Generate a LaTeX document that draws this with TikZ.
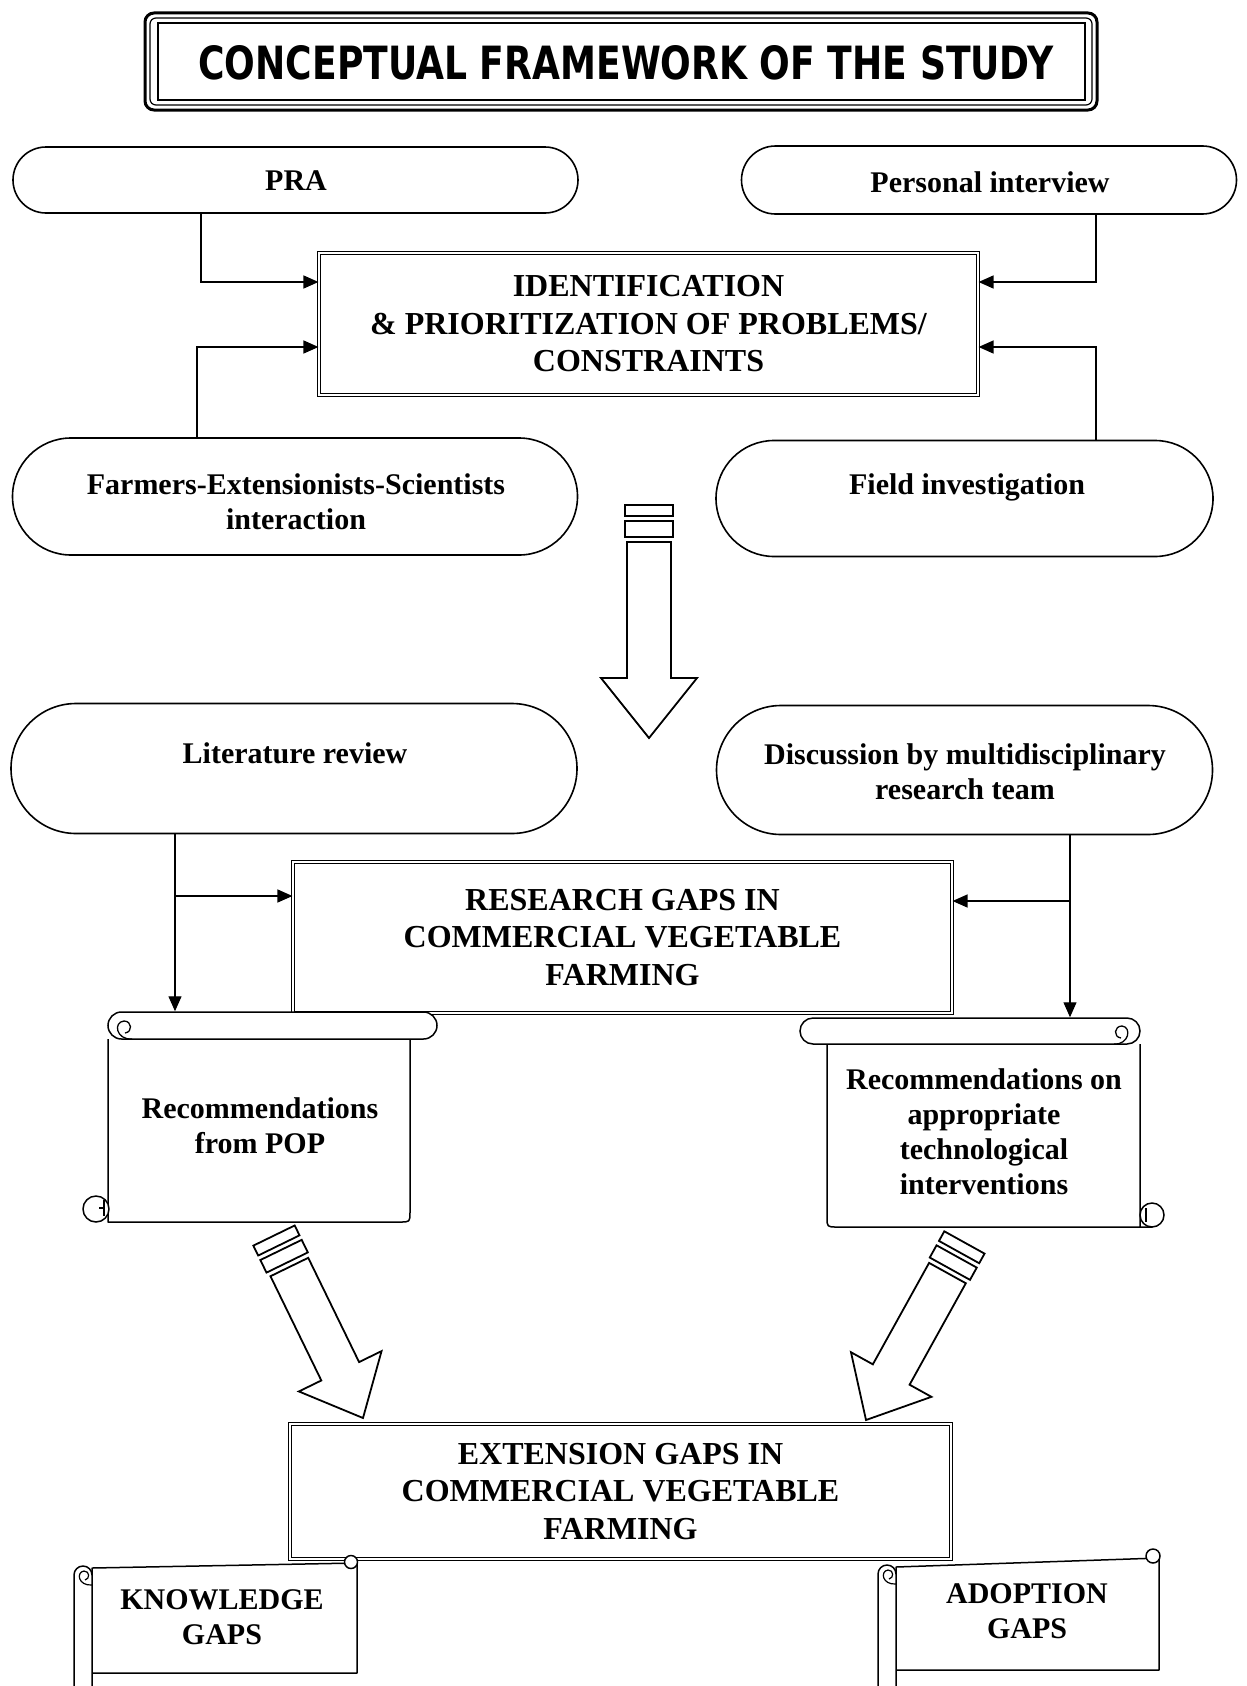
\documentclass[tikz,border=0pt]{standalone}
\usepackage{graphicx}
\usepackage{fontspec}
\setmainfont{Liberation Serif}
\newfontfamily\titlefont{DejaVu Sans}
\usetikzlibrary{arrows.meta,shapes.misc}
\tikzset{
  bolt/.style={line width=1.8pt, line join=miter, fill=white},
  bigarrow/.pic={
    \draw[bolt] (0,0) -- (-48,-60) -- (-22,-60) -- (-22,-196) -- (22,-196) -- (22,-60) -- (48,-60) -- cycle;
    \draw[bolt] (-24,-201) rectangle (24,-217);
    \draw[bolt] (-24,-222) rectangle (24,-233);
  },
  diagarrow/.pic={
    \draw[bolt] (0,0) -- (-46,-52) -- (-21,-52) -- (-21,-168) -- (21,-168) -- (21,-52) -- (46,-52) -- cycle;
    \draw[bolt] (-23,-173) rectangle (23,-187);
    \draw[bolt] (-23,-192) rectangle (23,-203);
  },
}
\begin{document}
\begin{tikzpicture}[x=1pt,y=-1pt,
  stad/.style={draw, line width=1.6pt, rounded rectangle, inner sep=0pt},
  dbox/.style={draw, line width=1.1pt, double, double distance=2.6pt, inner sep=0pt,
               font=\fontsize{32}{37.5}\selectfont\bfseries, align=center},
  conn/.style={line width=1.3pt, -{Triangle[length=15pt,width=13pt]}},
  txtA/.style={font=\fontsize{30}{35}\selectfont\bfseries, align=center, inner sep=0pt},
  scrl/.style={line width=1.5pt, fill=white, line join=round},
  roll/.style={draw, line width=1.5pt, fill=white, rounded rectangle, inner sep=0pt},
]
\clip (0,0) rectangle (1247,1686);
\fill[white] (0,0) rectangle (1247,1686);

% ---------- title ----------
\draw[line width=3pt, rounded corners=9pt] (145,13) rectangle (1097,110);
\draw[line width=1.2pt, rounded corners=6pt] (150,18) rectangle (1092,105);
\draw[line width=2.4pt] (158,23) rectangle (1085,100);
\node[inner sep=0pt] (title) at (626,63)
  {\resizebox{855pt}{34pt}{\titlefont\bfseries CONCEPTUAL FRAMEWORK OF THE STUDY}};

% ---------- stadiums ----------
\node[stad, minimum width=565pt, minimum height=66pt] (pra) at (295.5,180) {};
\node[stad, minimum width=495pt, minimum height=68pt] (pi) at (989,180) {};
\node[stad, minimum width=565pt, minimum height=117pt] (fes) at (295,496.5) {};
\node[stad, minimum width=497pt, minimum height=116pt] (fi) at (964.5,498.5) {};
\node[stad, minimum width=566pt, minimum height=130pt] (lit) at (294,768.5) {};
\node[stad, minimum width=496pt, minimum height=129pt] (disc) at (964.5,770) {};

\node[txtA] (praT) at (296,181) {PRA};
\node[txtA] (piT) at (990,182) {Personal interview};
\node[txtA] (fesT) at (296,502) {Farmers-Extensionists-Scientists\\interaction};
\node[txtA] (fiT) at (967,487) {Field investigation};
\node[txtA] (litT) at (295,753) {Literature review};
\node[txtA] (discT) at (965,772) {Discussion by multidisciplinary\\research team};

% ---------- boxes ----------
\node[dbox, minimum width=659pt, minimum height=142pt] (ident) at (648.5,324)
  {IDENTIFICATION\\\& PRIORITIZATION OF PROBLEMS/\\CONSTRAINTS};
\node[dbox, minimum width=659pt, minimum height=151pt] (res) at (622.5,937.5)
  {RESEARCH GAPS IN\\COMMERCIAL VEGETABLE\\FARMING};
\node[dbox, minimum width=661pt, minimum height=135pt] (ext) at (620.5,1491.5)
  {EXTENSION GAPS IN\\COMMERCIAL VEGETABLE\\FARMING};

% ---------- connectors to identification ----------
\coordinate (p1) at (201,282);
\coordinate (p2) at (1096,282);
\coordinate (p3) at (197,347);
\coordinate (p4) at (1096,347);
\draw[conn] (p1 |- pra.south) |- (ident.west |- p1);
\draw[conn] (p2 |- pi.south) |- (ident.east |- p2);
\draw[conn] (p3 |- fes.north) |- (ident.west |- p3);
\draw[conn] (p4 |- fi.north) |- (ident.east |- p4);

% ---------- big down arrow ----------
\pic at (649,738) {bigarrow};

% ---------- scroll A ----------
\draw[scrl] (108,1039) -- (108,1222) -- (400,1222) .. controls (410,1222) .. (410,1212) -- (410,1039);
\draw[scrl] (96,1209) circle[radius=13pt];
\draw[line width=1.3pt] (104,1200) -- (104,1216) (99,1208) -- (104,1208);
\node[roll, minimum width=329pt, minimum height=27pt] (scA) at (272.5,1025.5) {};
\draw[line width=1.3pt] (132,1039) .. controls (116,1040) and (113,1022) .. (124,1021) .. controls (132,1021) and (133,1032) .. (125,1033);
\node[txtA] (scAT) at (260,1126) {Recommendations\\from POP};

% ---------- scroll B ----------
\draw[scrl] (827,1044) -- (827,1217) .. controls (827,1227) .. (837,1227) -- (1152,1227) -- (1140,1227) -- (1140,1044);
\draw[scrl] (1152,1215) circle[radius=12pt];
\draw[line width=1.3pt] (1146,1208) -- (1146,1222);
\node[roll, minimum width=340pt, minimum height=26pt] (scB) at (970,1031) {};
\draw[line width=1.3pt] (1114,1044) .. controls (1129,1045) and (1132,1027) .. (1122,1026) .. controls (1114,1026) and (1113,1037) .. (1121,1038);
\node[txtA] (scBT) at (984,1132) {Recommendations on\\appropriate\\technological\\interventions};

% ---------- connectors to research / scrolls ----------
\coordinate (p5) at (175,896);
\coordinate (p6) at (1070,901);
\draw[conn] (p5 |- lit.south) -- (p5 |- scA.north);
\draw[conn] (p5) -- (res.west |- p5);
\draw[conn] (p6 |- disc.south) -- (p6 |- scB.north);
\draw[conn] (p6) -- (res.east |- p6);

% ---------- diagonal arrows ----------
\pic[rotate=26] at (363,1418) {diagarrow};
\pic[rotate=-29] at (866,1420) {diagarrow};

% ---------- knowledge scroll ----------
\draw[scrl] (92,1568) -- (357,1563) -- (357,1673) -- (92,1673) -- cycle;
\draw[scrl] (351,1562) circle[radius=6.5pt];
\draw[scrl, rounded corners=9pt] (74,1566) rectangle (92,1730);
\draw[line width=1.2pt] (92,1585) .. controls (78,1586) and (76,1572) .. (84,1571) .. controls (90,1571) and (90,1579) .. (85,1580);
\node[txtA] (kgT) at (222,1617) {KNOWLEDGE\\GAPS};

% ---------- adoption scroll ----------
\draw[scrl] (896,1567) -- (1159,1558) -- (1159,1670) -- (896,1670) -- cycle;
\draw[scrl] (1153,1556) circle[radius=7pt];
\draw[scrl, rounded corners=9pt] (878,1565) rectangle (896,1730);
\draw[line width=1.2pt] (896,1584) .. controls (882,1585) and (880,1571) .. (888,1570) .. controls (894,1570) and (894,1578) .. (889,1579);
\node[txtA] (agT) at (1027,1611) {ADOPTION\\GAPS};
\end{tikzpicture}
\end{document}
